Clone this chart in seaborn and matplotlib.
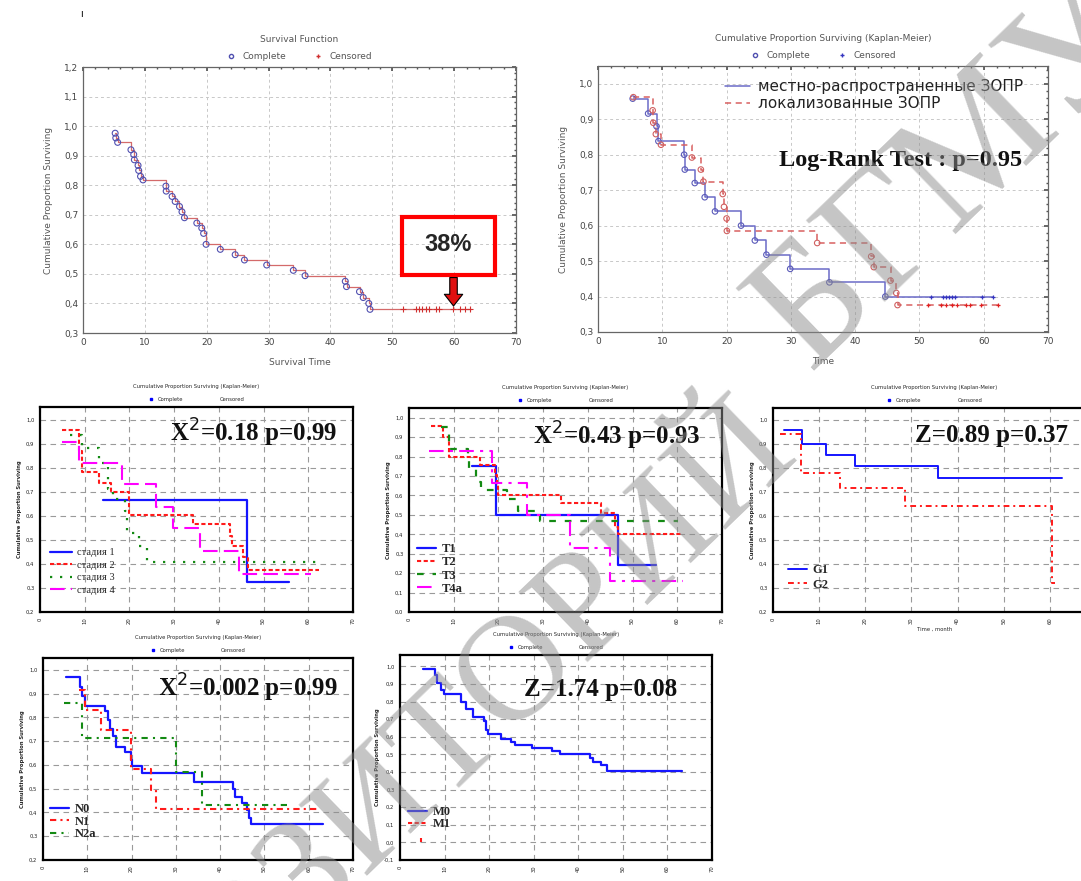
import matplotlib
matplotlib.use("Agg")
from matplotlib import pyplot as plt
from matplotlib.lines import Line2D
from matplotlib.ticker import FuncFormatter, MultipleLocator, AutoMinorLocator
import seaborn as sns

sns.set_theme(style="white")
plt.rcParams['font.family'] = ['DejaVu Sans']

# ---- top left: overall survival ----
tl_time = [5.2, 5.3, 5.6, 7.75, 8.2, 8.3, 8.9, 9.0, 9.3, 9.7, 13.4, 13.45, 14.4, 14.9, 15.6, 16.0, 16.4,
           18.4, 19.2, 19.5, 19.9, 22.2, 24.6, 26.1, 29.7, 34.0, 35.9, 42.4, 42.6, 44.7, 45.3, 46.2, 46.4]
tl_surv = [0.976, 0.96, 0.945, 0.92, 0.904, 0.886, 0.867, 0.85, 0.83, 0.818, 0.797, 0.78, 0.762, 0.745,
           0.728, 0.71, 0.69, 0.672, 0.655, 0.637, 0.6, 0.583, 0.565, 0.547, 0.53, 0.512, 0.494, 0.475,
           0.457, 0.44, 0.42, 0.4, 0.38]
tl_cens = [51.7, 53.8, 54.3, 54.8, 55.4, 56.0, 57.0, 57.5, 59.8, 61.0, 61.8, 62.5]

# ---- top right: local vs locally advanced ----
adv_time = [5.4, 7.8, 9.1, 9.4, 13.4, 13.5, 15.05, 16.6, 18.2, 22.25, 24.4, 26.2, 29.9, 36.0, 44.7]
adv_surv = [0.958, 0.916, 0.88, 0.838, 0.80, 0.758, 0.72, 0.68, 0.64, 0.60, 0.558, 0.518, 0.478, 0.44, 0.40]
adv_cens = [51.8, 53.6, 54.1, 54.6, 55.0, 55.6, 59.8, 61.4]
loc_time = [5.5, 8.5, 8.6, 9.0, 9.8, 14.6, 16.0, 16.4, 19.4, 19.6, 20.0, 20.05, 34.1, 42.5, 42.9,
            45.5, 46.4, 46.6]
loc_surv = [0.962, 0.925, 0.89, 0.858, 0.828, 0.792, 0.758, 0.724, 0.689, 0.653, 0.62, 0.585, 0.551,
            0.513, 0.483, 0.445, 0.41, 0.376]
loc_cens = [51.4, 53.4, 54.2, 55.0, 55.8, 57.3, 57.8, 59.5, 62.2]

# ---- stage ----
st1_time, st1_surv, st1_end = [14.1, 46.2], [0.669, 0.324], 55.6
st2_time = [4.9, 8.8, 9.3, 13.3, 15.8, 19.8, 34.2, 42.6, 43.0, 45.3, 46.5]
st2_surv = [0.958, 0.87, 0.785, 0.74, 0.70, 0.605, 0.565, 0.517, 0.475, 0.43, 0.375]
st2_end = 62.4
st3_time = [6.8, 9.3, 13.3, 15.2, 16.4, 19.0, 19.4, 22.1, 24.0]
st3_surv = [0.94, 0.885, 0.82, 0.715, 0.67, 0.62, 0.53, 0.475, 0.41]
st3_end = 62.8
st4_time = [4.9, 8.75, 18.3, 25.9, 29.7, 35.8, 44.5]
st4_surv = [0.91, 0.82, 0.735, 0.64, 0.55, 0.455, 0.36]
st4_end = 60.5

# ---- T ----
t1_time, t1_surv, t1_end = [14.2, 19.5, 46.7], [0.75, 0.50, 0.24], 55.3
t2_time = [4.9, 7.6, 8.9, 15.8, 19.3, 19.7, 19.9, 34.1, 43.0, 46.1, 46.7]
t2_surv = [0.957, 0.90, 0.80, 0.757, 0.707, 0.655, 0.60, 0.56, 0.51, 0.44, 0.40]
t2_end = 61.3
t3_time = [7.2, 8.9, 9.0, 13.1, 13.4, 15.0, 16.2, 22.0, 24.3, 29.4]
t3_surv = [0.95, 0.89, 0.84, 0.79, 0.74, 0.67, 0.63, 0.58, 0.52, 0.47]
t3_end = 60.1
t4_time, t4_surv, t4_end = [4.5, 18.5, 26.3, 36.0, 45.0], [0.83, 0.665, 0.50, 0.33, 0.16], 61.3

# ---- G ----
g1_time, g1_surv, g1_end = [2.3, 6.2, 11.5, 17.7, 35.8], [0.958, 0.90, 0.855, 0.81, 0.76], 62.7
g2_time, g2_surv, g2_end = [1.5, 6.0, 14.6, 28.5, 60.4], [0.94, 0.78, 0.715, 0.64, 0.32], 61.2

# ---- N ----
n0_time = [5.3, 8.4, 8.9, 9.5, 14.0, 14.7, 15.1, 15.9, 16.4, 18.6, 19.8, 20.2, 22.3, 34.1, 42.8, 43.4,
           45.0, 46.1, 46.5, 46.9]
n0_surv = [0.97, 0.93, 0.89, 0.85, 0.825, 0.79, 0.75, 0.72, 0.675, 0.655, 0.62, 0.595, 0.565, 0.53,
           0.50, 0.465, 0.44, 0.41, 0.375, 0.35]
n0_end = 63.2
n1_time, n1_surv, n1_end = [8.1, 9.5, 13.2, 19.8, 24.4, 25.6], [0.915, 0.83, 0.745, 0.585, 0.495, 0.415], 62.4
n2_time, n2_surv, n2_end = [4.8, 8.7, 30.1, 36.0], [0.86, 0.715, 0.57, 0.43], 55.7

# ---- M ----
m0_time = [5.1, 7.8, 8.4, 9.2, 9.8, 13.7, 14.8, 16.3, 18.9, 19.4, 19.7, 22.7, 25.0, 25.8, 29.7, 34.0,
           35.9, 42.6, 43.4, 45.0, 46.5]
m0_surv = [0.985, 0.953, 0.905, 0.867, 0.845, 0.80, 0.758, 0.71, 0.69, 0.64, 0.615, 0.59, 0.568, 0.555,
           0.536, 0.517, 0.50, 0.48, 0.455, 0.44, 0.403]
m0_end = 63.3
m1_time, m1_surv, m1_end = [4.7, 4.7], [0.025, 0.0], 4.7

W, H = 1081, 881
fig = plt.figure(figsize=(W / 100, H / 100), dpi=100)


def rect(x0, y0, x1, y1):
    return [x0 / W, 1 - y1 / H, (x1 - x0) / W, (y1 - y0) / H]


comma = FuncFormatter(lambda v, p: f"{v:.1f}".replace('.', ','))
serif = ['Liberation Serif', 'DejaVu Serif']


def km(ax, t, s, end, color, ls='-', lw=1.0, label=None):
    x = list(t) + [end]
    y = list(s) + [s[-1]]
    sns.lineplot(x=x, y=y, ax=ax, color=color, linestyle=ls, lw=lw, drawstyle='steps-post',
                 estimator=None, sort=False, label=label, legend=False)


def big_axes(ax, ylim, title, xlabel):
    ax.set_xlim(0, 70)
    ax.set_ylim(*ylim)
    ax.xaxis.set_major_locator(MultipleLocator(10))
    ax.yaxis.set_major_locator(MultipleLocator(0.1))
    ax.xaxis.set_minor_locator(AutoMinorLocator(5))
    ax.yaxis.set_minor_locator(AutoMinorLocator(5))
    ax.yaxis.set_major_formatter(comma)
    ax.tick_params(which='both', direction='in', top=True, right=True, colors='#555555',
                   labelsize=6.5, length=3, labelcolor='#444444')
    ax.tick_params(which='minor', length=1.5)
    ax.grid(True, color='#c8c8c8', ls=(0, (3, 3)), lw=0.7)
    for sp in ax.spines.values():
        sp.set_color('#666666')
        sp.set_linewidth(0.9)
    ax.set_xlabel(xlabel, fontsize=6.5, color='#555555', labelpad=8)
    ax.set_ylabel('Cumulative Proportion Surviving', fontsize=6.5, color='#555555', labelpad=8)
    ax.set_title(title, fontsize=6.5, color='#555555', pad=18)


def small_axes(ax, ylim, title, xlabel='', xmax=70):
    ax.set_xlim(0, 70)
    ax.set_ylim(*ylim)
    ax.set_xticks(range(0, xmax + 1, 10))
    ax.yaxis.set_major_locator(MultipleLocator(0.1))
    ax.yaxis.set_major_formatter(comma)
    ax.tick_params(direction='out', labelsize=3.8, length=2, width=0.6, colors='#222222', pad=2)
    ax.tick_params(axis='x', labelrotation=90)
    ax.grid(True, color='#9a9a9a', ls=(0, (5, 4)), lw=0.8)
    for sp in ax.spines.values():
        sp.set_color('black')
        sp.set_linewidth(1.6)
    ax.set_ylabel('Cumulative Proportion Surviving', fontsize=3.8, fontweight='bold', labelpad=3)
    ax.set_xlabel(xlabel, fontsize=3.8, labelpad=2)
    ax.set_title(title, fontsize=3.8, pad=14)
    head = [Line2D([], [], ls='none', marker='s', ms=1.5, color='blue', label='Complete'),
            Line2D([], [], ls='none', marker='none', color='black', label='Censored')]
    leg = ax.legend(handles=head, loc='lower center', bbox_to_anchor=(0.5, 1.0), ncol=2, frameon=False,
                    fontsize=3.8, handlelength=1, columnspacing=5, borderaxespad=0.5)
    ax.add_artist(leg)


def small_legend(ax, x, y, size=9, bold=True, hl=1.5, ls=0.1):
    ax.legend(loc='upper left', bbox_to_anchor=(x, y), frameon=False,
              prop={'family': serif, 'size': size, 'weight': 'bold' if bold else 'normal'},
              handlelength=hl, labelspacing=ls, borderaxespad=0, borderpad=0, handletextpad=0.5)


def stat_text(ax, txt, x, y, size=18):
    ax.text(x, y, txt, transform=ax.transAxes, ha='right', va='center', fontsize=size,
            fontweight='bold', family=serif, color='#111111')


BLUE, RED, GREEN, MAG = '#1515ff', '#ff1a1a', '#138a13', '#ff00ff'

# ---------- top left ----------
ax = fig.add_axes(rect(83, 67, 516, 333))
km(ax, tl_time, tl_surv, 62.7, '#d46a6a', lw=0.9)
sns.scatterplot(x=tl_time, y=tl_surv, ax=ax, marker='o', s=18, facecolor='none', edgecolor='#5050b0',
                linewidth=0.8, zorder=3)
sns.scatterplot(x=tl_cens, y=[tl_surv[-1]] * len(tl_cens), ax=ax, marker='+', s=14, color='#d03030',
                linewidth=0.8, zorder=3)
big_axes(ax, (0.3, 1.2), 'Survival Function', 'Survival Time')
head = [Line2D([], [], ls='none', marker='o', ms=3, mfc='none', mec='#5050b0', label='Complete'),
        Line2D([], [], ls='none', marker='+', ms=3.5, color='#d03030', label='Censored')]
ax.legend(handles=head, loc='lower center', bbox_to_anchor=(0.5, 1.0), ncol=2, frameon=False,
          fontsize=6.5, handlelength=1, columnspacing=3, borderaxespad=0.3, labelcolor='#555555')
ax.add_patch(plt.Rectangle((51.5, 0.497), 15.1, 0.195, fill=False, ec='red', lw=3, zorder=5))
ax.text(59.05, 0.6, '38%', ha='center', va='center', fontsize=17, fontweight='bold', zorder=6,
        family=['Liberation Sans', 'DejaVu Sans'])
ax.annotate('', xy=(59.9, 0.382), xytext=(59.9, 0.497),
            arrowprops=dict(arrowstyle='simple,head_width=1.1,head_length=0.7,tail_width=0.45',
                            fc='#e01010', ec='black', lw=0.8), zorder=6)

# ---------- top right ----------
ax = fig.add_axes(rect(598, 66, 1048, 332))
km(ax, adv_time, adv_surv, 61.5, '#6b6bc8', lw=1.1, label='местно-распространенные ЗОПР')
km(ax, loc_time, loc_surv, 62.3, '#d86060', ls=(0, (4, 3)), lw=1.1, label='локализованные ЗОПР')
sns.scatterplot(x=adv_time, y=adv_surv, ax=ax, marker='o', s=16, facecolor='none', edgecolor='#5a5ab8',
                linewidth=0.8, zorder=3)
sns.scatterplot(x=loc_time, y=loc_surv, ax=ax, marker='o', s=16, facecolor='none', edgecolor='#d06060',
                linewidth=0.8, zorder=3)
sns.scatterplot(x=adv_cens, y=[adv_surv[-1]] * len(adv_cens), ax=ax, marker='+', s=12, color='#3535c0',
                linewidth=0.9, zorder=3)
sns.scatterplot(x=loc_cens, y=[loc_surv[-1]] * len(loc_cens), ax=ax, marker='+', s=12, color='#e02020',
                linewidth=0.9, zorder=3)
big_axes(ax, (0.3, 1.05), 'Cumulative Proportion Surviving (Kaplan-Meier)', 'Time')
head = [Line2D([], [], ls='none', marker='o', ms=3, mfc='none', mec='#5050b0', label='Complete'),
        Line2D([], [], ls='none', marker='+', ms=3.5, color='#3535c0', label='Censored')]
leg = ax.legend(handles=head, loc='lower center', bbox_to_anchor=(0.5, 1.0), ncol=2, frameon=False,
                fontsize=6.5, handlelength=1, columnspacing=3, borderaxespad=0.3, labelcolor='#555555')
ax.add_artist(leg)
h, l = ax.get_legend_handles_labels()
ax.legend(h[:2], l[:2], loc='upper left', bbox_to_anchor=(0.282, 0.95), frameon=False, fontsize=11,
          handlelength=1.65, labelspacing=0.12, labelcolor='#222222', handletextpad=0.5,
          borderpad=0, borderaxespad=0)
stat_text(ax, 'Log-Rank Test : p=0.95', 0.942, 0.643, size=17.5)

# ---------- stage ----------
ax = fig.add_axes(rect(40, 407, 353, 612))
km(ax, st1_time, st1_surv, st1_end, BLUE, lw=1.6, label='стадия 1')
km(ax, st2_time, st2_surv, st2_end, RED, ls=(0, (2, 1.2)), lw=1.5, label='стадия 2')
km(ax, st3_time, st3_surv, st3_end, GREEN, ls=(0, (1, 3.5)), lw=1.6, label='стадия 3')
km(ax, st4_time, st4_surv, st4_end, MAG, ls=(0, (7, 3)), lw=1.5, label='стадия 4')
small_axes(ax, (0.2, 1.055), 'Cumulative Proportion Surviving (Kaplan-Meier)')
small_legend(ax, 0.032, 0.312, size=7.5, bold=False, hl=2.1, ls=0.3)
stat_text(ax, 'X$^2$=0.18 p=0.99', 0.949, 0.873)

# ---------- T ----------
ax = fig.add_axes(rect(409, 408, 722, 612))
km(ax, t1_time, t1_surv, t1_end, BLUE, lw=1.6, label='T1')
km(ax, t2_time, t2_surv, t2_end, RED, ls=(0, (2, 1.2)), lw=1.5, label='T2')
km(ax, t3_time, t3_surv, t3_end, GREEN, ls=(0, (3, 4)), lw=1.6, label='T3')
km(ax, t4_time, t4_surv, t4_end, MAG, ls=(0, (7, 3, 1.5, 3)), lw=1.5, label='T4a')
small_axes(ax, (0.0, 1.05), 'Cumulative Proportion Surviving (Kaplan-Meier)')
small_legend(ax, 0.026, 0.338)
stat_text(ax, 'X$^2$=0.43 p=0.93', 0.93, 0.865)

# ---------- G ----------
ax = fig.add_axes(rect(773, 408, 1096, 612))
km(ax, g1_time, g1_surv, g1_end, BLUE, lw=1.4, label='G1')
km(ax, g2_time, g2_surv, g2_end, RED, ls=(0, (3, 2, 1, 2)), lw=1.4, label='G2')
small_axes(ax, (0.2, 1.05), 'Cumulative Proportion Surviving (Kaplan-Meier)', 'Time , month', xmax=60)
small_legend(ax, 0.046, 0.235, ls=0.2)
stat_text(ax, 'Z=0.89 p=0.37', 0.913, 0.865)

# ---------- N ----------
ax = fig.add_axes(rect(43, 658, 353, 860))
km(ax, n0_time, n0_surv, n0_end, BLUE, lw=1.6, label='N0')
km(ax, n1_time, n1_surv, n1_end, RED, ls=(0, (3, 2, 1, 2)), lw=1.5, label='N1')
km(ax, n2_time, n2_surv, n2_end, GREEN, ls=(0, (3, 2.5, 1, 2.5)), lw=1.5, label='N2a')
small_axes(ax, (0.2, 1.05), 'Cumulative Proportion Surviving (Kaplan-Meier)')
small_legend(ax, 0.023, 0.282, ls=0.05)
stat_text(ax, 'X$^2$=0.002 p=0.99', 0.952, 0.85)

# ---------- M ----------
ax = fig.add_axes(rect(400, 655, 712, 860))
km(ax, m0_time, m0_surv, m0_end, BLUE, lw=1.6, label='M0')
km(ax, m1_time, m1_surv, m1_end, RED, ls=(0, (2, 1.2)), lw=1.5, label='M1')
small_axes(ax, (-0.1, 1.065), 'Cumulative Proportion Surviving (Kaplan-Meier)')
small_legend(ax, 0.026, 0.263, ls=0.0)
stat_text(ax, 'Z=1.74 p=0.08', 0.888, 0.83)

# watermark
wm = dict(color='#8c8c8c', alpha=0.5, rotation=44, rotation_mode='anchor',
          family=['Liberation Serif', 'DejaVu Serif'], zorder=20)
fig.text(775 / W, 1 - 428 / H, 'РЕПОЗИТОРИЙ', ha='right', va='center', fontsize=108, **wm)
fig.text(780 / W, 1 - 340 / H, 'БГМУ', ha='left', va='center', fontsize=125, **wm)
fig.text(80 / W, 1 - 17 / H, 'ı', fontsize=7, color='black')

fig.savefig('out.png', dpi=100)
